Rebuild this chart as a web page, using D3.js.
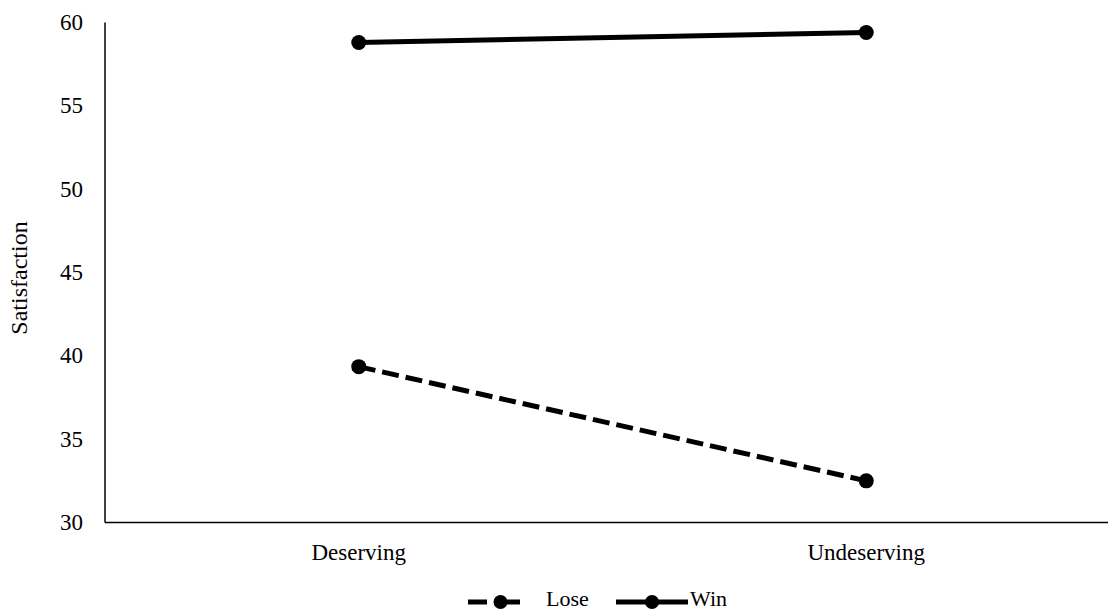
<!DOCTYPE html>
<html><head><meta charset="utf-8">
<script src="https://cdn.jsdelivr.net/npm/d3@7"></script>
<style>body{margin:0;background:#fff}svg{display:block}</style>
</head><body><svg id="c" width="1108" height="612"></svg>
<script>
const categories = ["Deserving", "Undeserving"];
const loseValues = [39.35, 32.5];
const winValues = [58.8, 59.4];
const yTicks = [30, 35, 40, 45, 50, 55, 60];
const seriesNames = ["Lose", "Win"];

const FONT = "'Liberation Serif'";
const svg = d3.select("#c");
const x = d3.scaleBand().domain(categories).range([105, 1120]);
const y = d3.scaleLinear().domain([30, 60]).range([522.5, 22.5]);
const cx = d => x(d) + x.bandwidth() / 2;

// axes
svg.append("line").attr("x1", 105).attr("x2", 105).attr("y1", y(60)).attr("y2", y(30)).attr("stroke", "#000").attr("stroke-width", 1.5);
svg.append("line").attr("x1", 105).attr("x2", 1108).attr("y1", y(30)).attr("y2", y(30)).attr("stroke", "#000").attr("stroke-width", 1.5);

svg.selectAll(".yt").data(yTicks).join("text").attr("class", "yt")
  .attr("x", 83).attr("y", d => y(d)).attr("dy", "0.33em").attr("text-anchor", "end")
  .style("font-family", FONT).attr("font-size", 23).text(d => d);

svg.selectAll(".xt").data(categories).join("text").attr("class", "xt")
  .attr("x", d => cx(d)).attr("y", 560).attr("text-anchor", "middle")
  .style("font-family", FONT).attr("font-size", 23).text(d => d);

svg.append("text").attr("transform", "translate(27,278) rotate(-90)")
  .attr("text-anchor", "middle").style("font-family", FONT).attr("font-size", 24).text("Satisfaction");

const series = [
  {name: seriesNames[0], values: loseValues, dash: "17,7"},
  {name: seriesNames[1], values: winValues, dash: null}
];
const line = d3.line().x((d, i) => cx(categories[i])).y(d => y(d));
series.forEach(s => {
  svg.append("path").attr("d", line(s.values)).attr("fill", "none").attr("stroke", "#000")
    .attr("stroke-width", 5).attr("stroke-dasharray", s.dash);
  svg.selectAll(null).data(s.values).join("circle")
    .attr("cx", (d, i) => cx(categories[i])).attr("cy", d => y(d)).attr("r", 7.5).attr("fill", "#000");
});

// legend
const leg = [{s: series[0], x0: 468, x1: 533, tx: 546, dash: "19,14"}, {s: series[1], x0: 616, x1: 688, tx: 690, dash: null}];
leg.forEach(l => {
  const g = svg.append("g");
  g.append("line").attr("x1", l.x0).attr("x2", l.x1).attr("y1", 602).attr("y2", 602)
    .attr("stroke", "#000").attr("stroke-width", 5).attr("stroke-dasharray", l.dash);
  g.append("circle").attr("cx", (l.x0 + l.x1) / 2).attr("cy", 602).attr("r", 7).attr("fill", "#000");
  g.append("text").attr("x", l.tx).attr("y", 606).style("font-family", FONT).attr("font-size", 22).text(l.s.name);
});
</script></body></html>
